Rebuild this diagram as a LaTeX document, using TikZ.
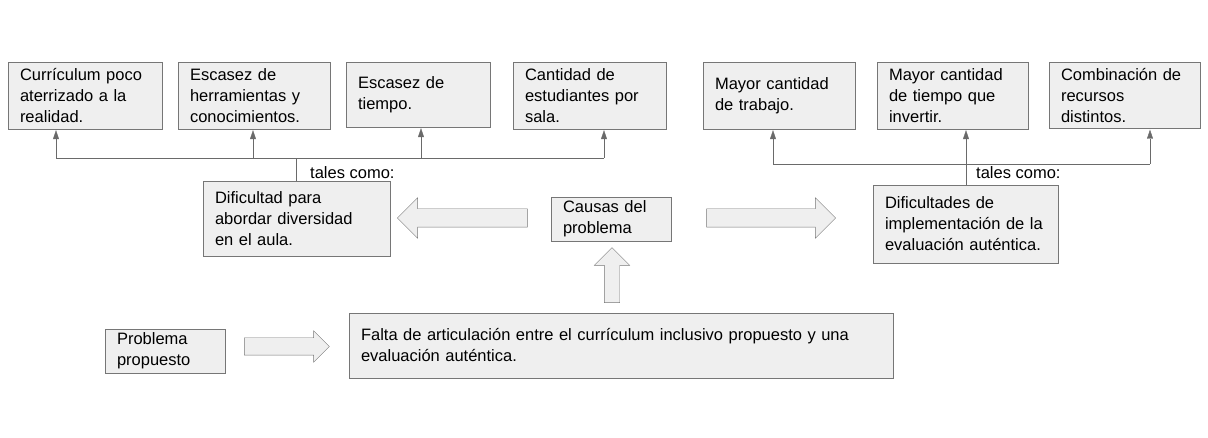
\documentclass[tikz,border=0pt]{standalone}
\usepackage{fontspec}
\setmainfont{Liberation Sans}
\usetikzlibrary{arrows.meta,shapes.arrows}
\definecolor{boxfill}{HTML}{EFEFEF}
\definecolor{boxline}{HTML}{767676}
\definecolor{linkgray}{HTML}{6A6A6A}
\tikzset{
  box/.style={draw=boxline, fill=boxfill, align=left, inner xsep=12pt, inner ysep=0pt,
    font=\fontsize{16.5}{21}\selectfont},
  hollow/.style={single arrow, draw=boxline, fill=boxfill, inner sep=9pt,
    single arrow head extend=11pt},
  link/.style={draw=linkgray},
  tip/.style={draw=linkgray, -{Triangle[length=9pt,width=6pt]}, shorten >=1pt},
  note/.style={anchor=west, inner sep=0pt, font=\fontsize{16.5}{21}\selectfont},
}
\begin{document}
\begin{tikzpicture}[x=1pt,y=-1pt]
    \useasboundingbox (0,0) rectangle (1208,438);
    % Causes, top row
    \node [box, text width=130pt, minimum height=67pt] (cur) at (85,95.5) {Currículum poco\\aterrizado a la\\realidad.};
    \node [box, text width=128pt, minimum height=67pt] (esh) at (254,95.5) {Escasez de\\herramientas y\\conocimientos.};
    \node [box, text width=120pt, minimum height=65pt] (est) at (418,94.5) {Escasez de\\tiempo.};
    \node [box, text width=129pt, minimum height=67pt] (can) at (589.5,95.5) {Cantidad de\\estudiantes por\\sala.};
    \node [box, text width=128pt, minimum height=67pt] (may) at (779,95.5) {Mayor cantidad\\de trabajo.};
    \node [box, text width=127pt, minimum height=67pt] (mat) at (952.5,95.5) {Mayor cantidad\\de tiempo que\\invertir.};
    \node [box, text width=127pt, minimum height=66pt] (com) at (1124.5,95.5) {Combinación de\\recursos\\distintos.};
    % Middle row
    \node [box, text width=163pt, minimum height=75pt] (dif) at (296.5,218.5) {Dificultad para\\abordar diversidad\\en el aula.};
    \node [box, text width=96pt, minimum height=44pt] (cau) at (611,219) {Causas del\\problema};
    \node [box, text width=161pt, minimum height=78pt] (imp) at (965.5,224) {Dificultades de\\implementación de la\\evaluación auténtica.};
    % Bottom row
    \node [box, text width=96pt, minimum height=44pt] (pro) at (165,351) {Problema\\propuesto};
    \node [box, text width=520pt, minimum height=65pt] (fal) at (621,345.5) {Falta de articulación entre el currículum inclusivo propuesto y una\\evaluación auténtica.};
    % Hollow arrows
    \node [hollow, minimum height=130pt, shape border rotate=180] (la) at (467,218) {};
    \node [hollow, minimum height=129pt] (ra) at (766.5,218) {};
    \node [hollow, minimum height=55pt, inner sep=7.5pt, single arrow head extend=10pt, shape border rotate=90] (ua) at (612,279) {};
    \node [hollow, minimum height=85pt, inner sep=8.5pt, single arrow head extend=7pt] (ba) at (282.5,346.5) {};
    % Left tree
    \coordinate (lb1) at (56,158);
    \coordinate (lb2) at (253,158);
    \coordinate (lb3) at (421,158);
    \coordinate (lb4) at (604,158);
    \draw [link] (lb1) -- (lb4);
    \draw [link] (dif.north) -- (dif.north |- lb1);
    \draw [tip] (lb1) -- (lb1 |- cur.south);
    \draw [tip] (lb2) -- (lb2 |- esh.south);
    \draw [tip] (lb3) -- (lb3 |- est.south);
    \draw [tip] (lb4) -- (lb4 |- can.south);
    \node [note] (ltc) at (310,173) {tales como:};
    % Right tree
    \coordinate (rb1) at (773,164);
    \coordinate (rb2) at (966,164);
    \coordinate (rb3) at (1150,164);
    \draw [link] (rb1) -- (rb3);
    \draw [link] (rb2) -- (rb2 |- imp.north);
    \draw [tip] (rb1) -- (rb1 |- may.south);
    \draw [tip] (rb2) -- (rb2 |- mat.south);
    \draw [tip] (rb3) -- (rb3 |- com.south);
    \node [note] (rtc) at (976,173) {tales como:};
\end{tikzpicture}
\end{document}
